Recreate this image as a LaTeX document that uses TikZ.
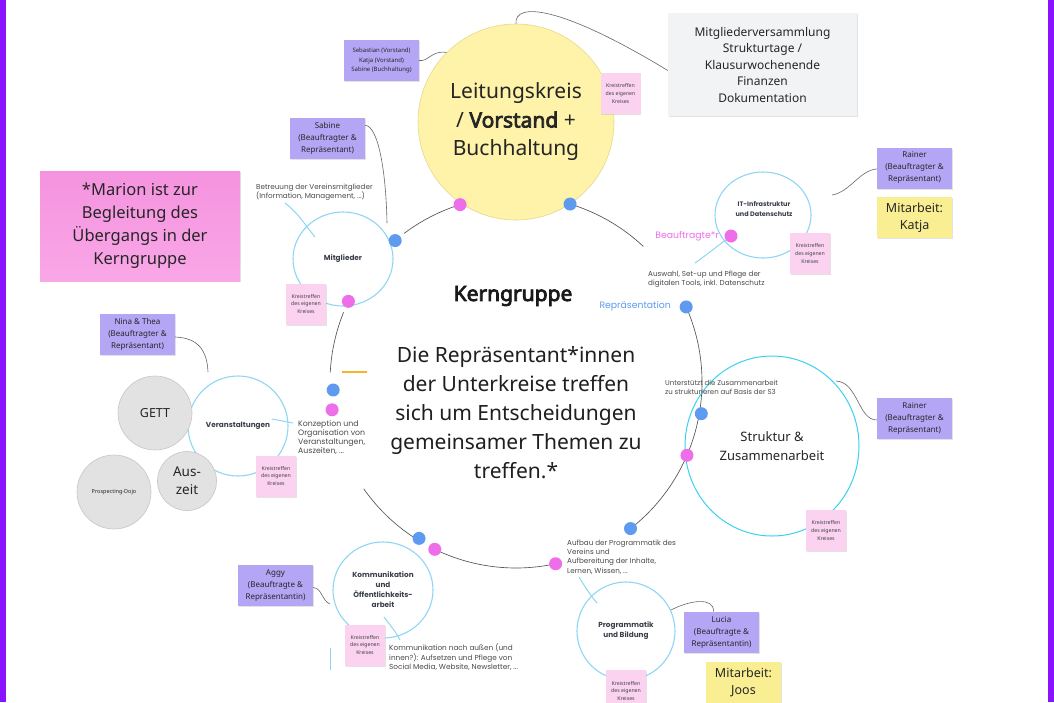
\documentclass[tikz,border=0pt]{standalone}
\usepackage{fontspec}
\setmainfont{Noto Sans}[AutoFakeBold=3.6]
\newfontfamily\pop{Poppins}
\usetikzlibrary{shapes.geometric,shadows,calc}
\definecolor{edgepurple}{HTML}{8A12FF}
\definecolor{lav}{HTML}{B4A6F5}
\definecolor{pinklight}{HTML}{FBD3F1}
\definecolor{pinktop}{HTML}{F593DF}
\definecolor{pinkbot}{HTML}{F9A7E7}
\definecolor{yel}{HTML}{FAEE92}
\definecolor{yelcircle}{HTML}{FEF3A9}
\definecolor{yeledge}{HTML}{E6D98E}
\definecolor{greybox}{HTML}{F2F3F5}
\definecolor{greycirc}{HTML}{E2E2E2}
\definecolor{greyedge}{HTML}{C6C6C6}
\definecolor{bluedot}{HTML}{5E9BF0}
\definecolor{pinkdot}{HTML}{EE6EEA}
\definecolor{cyanline}{HTML}{8ED6F4}
\definecolor{cyanstrong}{HTML}{3AD2F2}
\definecolor{labgrey}{HTML}{3A3F4A}
\definecolor{descgrey}{HTML}{4A4A4A}
\definecolor{orangemark}{HTML}{F5B52A}
\begin{document}
\begin{tikzpicture}[x=1pt,y=1pt,
  ring/.style={draw=black!68, line width=0.65pt},
  conn/.style={draw=black!60, line width=0.6pt},
  tail/.style={draw=cyanline, line width=1pt},
  bdot/.style={circle, fill=bluedot, minimum size=13pt, inner sep=0pt},
  pdot/.style={circle, fill=pinkdot, minimum size=13pt, inner sep=0pt},
  shad/.style={drop shadow={shadow xshift=0.6pt, shadow yshift=-1.4pt, opacity=0.22}},
  lavnote/.style={shad, fill=lav, minimum width=75pt, minimum height=41pt, inner sep=1pt, align=center, text=black!85, font=\fontsize{8}{12}\selectfont},
  kreis/.style={shad, fill=pinklight, minimum width=40pt, minimum height=41pt, inner sep=0pt, align=center, text=black!75, font=\fontsize{5.2}{7.8}\selectfont},
  yelnote/.style={shad, fill=yel, minimum width=75pt, minimum height=41pt, inner sep=0pt, align=center, text=black!85, font=\fontsize{12.5}{17}\selectfont},
  subc/.style={ellipse, draw=cyanline, line width=1.1pt, inner sep=0pt, align=center, text=labgrey, font=\pop\bfseries\fontsize{7.3}{10}\selectfont},
  greyc/.style={circle, fill=greycirc, draw=greyedge, line width=0.6pt, inner sep=0pt, align=center, text=black!85},
  desc/.style={anchor=west, align=left, inner sep=0pt, text=descgrey, font=\pop\fontsize{7.2}{9.3}\selectfont},
]
\useasboundingbox (0,0) rectangle (1054,-702);
\fill[white] (0,0) rectangle (1054,-702);
\fill[edgepurple] (0,0) rectangle (6,-702);
\fill[edgepurple] (1048,0) rectangle (1054,-702);

% ---- central ring ----
\coordinate (C) at (516,-382);
\draw[ring] ($(C)+(46.8:186)$) arc[start angle=46.8, end angle=73.1, radius=186];
\draw[ring] ($(C)+(107.5:186)$) arc[start angle=107.5, end angle=127, radius=186];
\draw[ring] ($(C)+(158:186)$) arc[start angle=158, end angle=177, radius=186];
\draw[ring] ($(C)+(215:186)$) arc[start angle=215, end angle=238.2, radius=186];
\draw[ring] ($(C)+(244.1:186)$) arc[start angle=244.1, end angle=282.3, radius=186];
\draw[ring] ($(C)+(308:186)$) arc[start angle=308, end angle=383.8, radius=186];
\draw[orangemark, line width=1.4pt] (342,-372) -- (367,-372);

% ---- sub circles ----
\node[subc, minimum width=100pt, minimum height=94pt] (mitg) at (343,-259) {Mitglieder};
\node[subc, minimum width=96pt, minimum height=86pt] (itc) at (763,-215) {};
\node[align=center, text=labgrey, font=\pop\bfseries\fontsize{6.5}{10.5}\selectfont, inner sep=0pt] (itt) at (764,-209) {IT-Infrastruktur\\und Datenschutz};
\node[subc, minimum width=100pt, minimum height=100pt] (ver) at (238,-426) {Veranstaltungen};
\node[subc, draw=cyanstrong, line width=1pt, minimum width=174pt, minimum height=180pt, text=black!85, font=\fontsize{13}{18.5}\selectfont] (str) at (772,-446) {Struktur \&\\Zusammenarbeit};
\node[subc, minimum width=100pt, minimum height=96pt] (kom) at (383,-590) {Kommunikation\\und\\Öffentlichkeits-\\arbeit};
\node[subc, minimum width=98pt, minimum height=98pt] (prog) at (626,-631) {Programmatik\\und Bildung};

% grey circles
\node[greyc, minimum size=74pt, font=\fontsize{12.5}{16}\selectfont] (gett) at (155,-413) {GETT};
\node[greyc, minimum size=59pt, font=\fontsize{13.5}{18}\selectfont] (aus) at (187,-481) {Aus-\\zeit};
\node[greyc, minimum size=74pt, font=\fontsize{5.5}{7}\selectfont] (dojo) at (114,-492) {Prospecting-Dojo};

% Leitungskreis
\node[circle, fill=yelcircle, draw=yeledge, line width=0.6pt, minimum size=196pt, inner sep=0pt, align=center, text=black!85, font=\fontsize{21}{28.5}\selectfont] (lk) at (516,-122) {Leitungskreis\\/ \textbf{Vorstand} +\\Buchhaltung};

% ---- dots ----
\node[pdot] (lkp) at ($(C)+(107.5:186)$) {};
\node[bdot] (lkb) at ($(C)+(73.1:186)$) {};
\node[bdot] (mitgb) at ($(C)+(130.5:186)$) {};
\node[pdot] (mitgp) at ($(C)+(154.3:186)$) {};
\node[bdot] (verb) at ($(C)+(182.5:183)$) {};
\node[pdot] (verp) at ($(C)+(188.6:186)$) {};
\node[bdot] (komb) at ($(C)+(238.2:184)$) {};
\node[pdot] (komp) at ($(C)+(244.1:186)$) {};
\node[pdot] (progp) at ($(C)+(282.3:186)$) {};
\node[bdot] (progb) at ($(C)+(308:186)$) {};
\node[pdot] (strp) at ($(C)+(336.8:186)$) {};
\node[bdot] (strb) at ($(C)+(350.3:188)$) {};
\node[bdot] (itb) at ($(C)+(23.8:186)$) {};
\node[pdot] (itp) at (731,-236) {};

% ---- tails ----
\coordinate (mt1) at (285,-203); \coordinate (mt2) at (315,-237);
\draw[tail] (mt1) .. controls (300,-215) and (305,-225) .. (mt2);
\coordinate (it2) at (695,-263);
\draw[tail] (itp) .. controls (715,-248) and (705,-256) .. (it2);
\coordinate (vt1) at (272,-419); \coordinate (vt2) at (293,-423);
\draw[tail] (vt1) -- (vt2);
\coordinate (kt1) at (384,-617); \coordinate (kt2) at (400,-640);
\draw[tail] (kt1) .. controls (390,-625) and (396,-632) .. (kt2);
\coordinate (pt1) at (579,-577); \coordinate (pt2) at (597,-603);
\draw[tail] (pt1) .. controls (585,-587) and (591,-596) .. (pt2);
\coordinate (ct1) at (330,-648); \coordinate (ct2) at (330,-670);
\draw[tail, line width=0.8pt] (ct1) -- (ct2);

% ---- notes ----
\node[lavnote, font=\fontsize{6}{9.5}\selectfont] (seb) at (381.5,-60.5) {Sebastian (Vorstand)\\Katja (Vorstand)\\Sabine (Buchhaltung)};
\node[kreis] (klk) at (620.5,-93.5) {Kreistreffen\\des eigenen\\Kreises};
\node[shad, fill=greybox, minimum width=189pt, minimum height=103pt, align=center, text=black!85, font=\fontsize{12}{16.5}\selectfont] (gbox) at (762.5,-64.5) {Mitgliederversammlung\\Strukturtage /\\Klausurwochenende\\Finanzen\\Dokumentation};
\node[lavnote] (sab) at (327.5,-138) {Sabine\\(Beauftragter \&\\Repräsentant)};
\node[shad, top color=pinktop, bottom color=pinkbot, minimum width=200pt, minimum height=110pt, align=center, text=black!85, font=\fontsize{16.5}{23}\selectfont] (mar) at (140,-226) {*Marion ist zur\\Begleitung des\\Übergangs in der\\Kerngruppe};
\node[kreis] (kmitg) at (306,-304) {Kreistreffen\\des eigenen\\Kreises};
\node[lavnote] (r1) at (914.5,-168) {Rainer\\(Beauftragter \&\\Repräsentant)};
\node[yelnote] (katja) at (914.5,-217.5) {Mitarbeit:\\Katja};
\node[kreis] (kit) at (810,-253.5) {Kreistreffen\\des eigenen\\Kreises};
\node[lavnote] (nina) at (137.5,-334.5) {Nina \& Thea\\(Beauftragter \&\\Repräsentant)};
\node[kreis] (kver) at (276,-476) {Kreistreffen\\des eigenen\\Kreises};
\node[lavnote] (r2) at (914.5,-418.5) {Rainer\\(Beauftragter \&\\Repräsentant)};
\node[kreis] (kstr) at (826,-530.5) {Kreistreffen\\des eigenen\\Kreises};
\node[lavnote] (aggy) at (275.5,-585.5) {Aggy\\(Beauftragte \&\\Repräsentantin)};
\node[kreis] (kkom) at (365,-645) {Kreistreffen\\des eigenen\\Kreises};
\node[lavnote] (lucia) at (721.5,-632) {Lucia\\(Beauftragte \&\\Repräsentantin)};
\node[yelnote] (joos) at (743.5,-682) {Mitarbeit:\\Joos};
\node[kreis, minimum height=42pt] (kprog) at (626,-691) {Kreistreffen\\des eigenen\\Kreises};

% ---- descriptions ----
\node[desc] (dmitg) at (256,-192.5) {Betreuung der Vereinsmitglieder\\(Information, Management, ...)};
\node[desc] (dit) at (648,-279) {Auswahl, Set-up und Pflege der\\digitalen Tools, inkl. Datenschutz};
\node[desc, font=\pop\fontsize{7}{9.3}\selectfont] (dstr) at (665,-387.5) {Unterstützt die Zusammenarbeit\\zu strukturieren auf Basis der S3};
\node[desc, font=\pop\fontsize{7.8}{9.2}\selectfont] (dver) at (298,-437.5) {Konzeption und\\Organisation von\\Veranstaltungen,\\Auszeiten, ...};
\node[desc, font=\pop\fontsize{7.3}{9.5}\selectfont] (dkom) at (389,-657.5) {Kommunikation nach außen (und\\innen?): Aufsetzen und Pflege von\\Social Media, Website, Newsletter, ...};
\node[desc] (dprog) at (567,-557) {Aufbau der Programmatik des\\Vereins und\\Aufbereitung der Inhalte,\\Lernen, Wissen, ...};
\node[anchor=east, inner sep=0pt, text=pinkdot, font=\pop\fontsize{9.3}{11}\selectfont] (beau) at (719,-236) {Beauftragte*r};
\node[anchor=east, inner sep=0pt, text=bluedot, font=\pop\fontsize{9.3}{11}\selectfont] (repr) at (671,-306) {Repräsentation};

% ---- centre text ----
\node[font=\bfseries\fontsize{21}{24}\selectfont, text=black!90] (kern) at (513,-296) {Kerngruppe};
\node[align=center, text=black!88, font=\fontsize{21}{29}\selectfont] (body) at (516,-413) {Die Repräsentant*innen\\der Unterkreise treffen\\sich um Entscheidungen\\gemeinsamer Themen zu\\treffen.*};

% ---- connectors ----
\draw[conn] (seb.east) .. controls (428,-62) and (432,-50) .. (lk.135);
\draw[conn] (lk.north) .. controls (514,-2) and (560,-5) .. ([yshift=-6pt]gbox.west);
\coordinate (sabEnd) at (387,-223);
\draw[conn] ([yshift=-8pt]sab.north east) .. controls (378,-126) and (386,-170) .. (sabEnd);
\coordinate (r1End) at (832,-195);
\draw[conn] ([yshift=-1pt]r1.west) .. controls (860,-170) and (850,-192) .. (r1End);
\coordinate (ninaEnd) at (208,-372);
\draw[conn] ([yshift=-2.5pt]nina.east) .. controls (198,-338) and (207,-350) .. (ninaEnd);
\coordinate (r2End) at (836,-381);
\draw[conn] ([yshift=-1.5pt]r2.west) .. controls (858,-420) and (858,-382) .. (r2End);
\coordinate (aggyEnd) at (330,-604);
\draw[conn] ([yshift=-2pt]aggy.east) .. controls (322,-588) and (322,-601) .. (aggyEnd);
\draw[conn] (prog.25) .. controls (690,-600) and (714,-597) .. ([xshift=-8pt]lucia.north);
\end{tikzpicture}
\end{document}
